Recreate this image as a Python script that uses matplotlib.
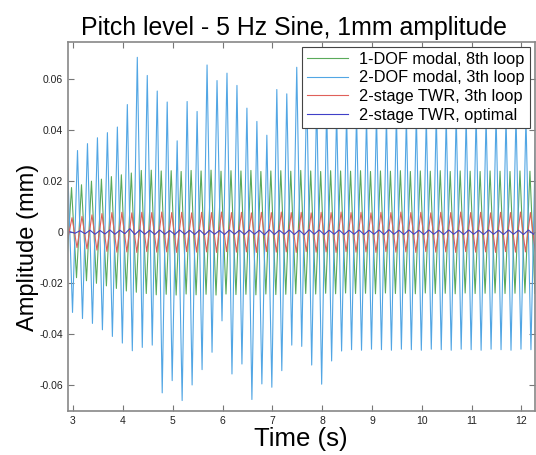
import numpy as np
import matplotlib.pyplot as plt

plt.rcParams['font.family'] = ['Liberation Sans', 'DejaVu Sans']

# ======================================================= #
# values: peaks / troughs of each 5 Hz cycle (mm)
half_period = 0.1  # 5 Hz sine -> one extreme every 0.1 s

# 1-DOF modal, 8th loop
green_peak_t0 = 2.97
green_peaks = [0.0175, 0.0186, 0.0200, 0.0208, 0.0218, 0.0225, 0.0232, 0.0242, 0.0243, 0.0240,
               0.0241, 0.0238, 0.0242, 0.0240, 0.0243, 0.0239, 0.0241, 0.0240, 0.0242, 0.0238,
               0.0240, 0.0241, 0.0239, 0.0242, 0.0240, 0.0238, 0.0241, 0.0240, 0.0239, 0.0241,
               0.0238, 0.0240, 0.0239, 0.0241, 0.0238, 0.0240, 0.0239, 0.0241, 0.0238, 0.0240,
               0.0239, 0.0238, 0.0240, 0.0239, 0.0238, 0.0240, 0.0239, 0.0238]
green_trough_t0 = 2.87
green_troughs = [-0.0140, -0.0178, -0.0190, -0.0200, -0.0210, -0.0220, -0.0230, -0.0235, -0.0240, -0.0245,
                 -0.0243, -0.0246, -0.0242, -0.0245, -0.0243, -0.0246, -0.0242, -0.0244, -0.0243, -0.0245,
                 -0.0242, -0.0244, -0.0243, -0.0241, -0.0240, -0.0242, -0.0239, -0.0241, -0.0238, -0.0240,
                 -0.0239, -0.0241, -0.0238, -0.0240, -0.0239, -0.0241, -0.0238, -0.0240, -0.0239, -0.0241,
                 -0.0238, -0.0240, -0.0239, -0.0238, -0.0240, -0.0239, -0.0238, -0.0240]

# 2-DOF modal, 3th loop
blue_peak_t0 = 2.89
blue_peaks = [0.0270, 0.0320, 0.0347, 0.0370, 0.0390, 0.0412, 0.0500, 0.0685, 0.0614, 0.0553,
              0.0510, 0.0358, 0.0512, 0.0473, 0.0655, 0.0594, 0.0623, 0.0575, 0.0486, 0.0434,
              0.0380, 0.0559, 0.0542, 0.0646, 0.0560, 0.0520, 0.0490, 0.0470, 0.0460, 0.0460,
              0.0450, 0.0460, 0.0450, 0.0460, 0.0450, 0.0460, 0.0450, 0.0460, 0.0450, 0.0460,
              0.0450, 0.0460, 0.0450, 0.0460, 0.0450, 0.0460, 0.0450, 0.0450]
blue_trough_t0 = 2.99
blue_troughs = [-0.0314, -0.0338, -0.0357, -0.0382, -0.0408, -0.0434, -0.0464, -0.0451, -0.0442, -0.0629,
                -0.0581, -0.0659, -0.0598, -0.0538, -0.0470, -0.0347, -0.0555, -0.0516, -0.0655, -0.0594,
                -0.0607, -0.0542, -0.0442, -0.0447, -0.0520, -0.0595, -0.0504, -0.0465, -0.0460, -0.0462,
                -0.0458, -0.0460, -0.0462, -0.0458, -0.0460, -0.0462, -0.0458, -0.0460, -0.0462, -0.0458,
                -0.0460, -0.0462, -0.0458, -0.0460, -0.0462, -0.0458, -0.0460]

# 2-stage TWR, 3th loop
red_peak_t0 = 2.98
red_peaks = [0.0057, 0.0062, 0.0068, 0.0073, 0.0077, 0.0078, 0.0076, 0.0078, 0.0077, 0.0079,
             0.0077, 0.0078, 0.0076, 0.0078, 0.0077, 0.0079, 0.0077, 0.0078, 0.0076, 0.0078,
             0.0077, 0.0079, 0.0077, 0.0078, 0.0076, 0.0078, 0.0077, 0.0079, 0.0077, 0.0078,
             0.0076, 0.0078, 0.0077, 0.0079, 0.0077, 0.0078, 0.0076, 0.0078, 0.0077, 0.0079,
             0.0077, 0.0078, 0.0076, 0.0078, 0.0077, 0.0079, 0.0077, 0.0078]
red_trough_t0 = 2.88
red_troughs = [-0.0040, -0.0060, -0.0065, -0.0070, -0.0075, -0.0078, -0.0077, -0.0079, -0.0076, -0.0078,
               -0.0077, -0.0079, -0.0076, -0.0078, -0.0077, -0.0079, -0.0076, -0.0078, -0.0077, -0.0079,
               -0.0076, -0.0078, -0.0077, -0.0079, -0.0076, -0.0078, -0.0077, -0.0079, -0.0076, -0.0078,
               -0.0077, -0.0079, -0.0076, -0.0078, -0.0077, -0.0079, -0.0076, -0.0078, -0.0077, -0.0079,
               -0.0076, -0.0078, -0.0077, -0.0079, -0.0076, -0.0078, -0.0077, -0.0079]

# 2-stage TWR, optimal
navy_peak_t0 = 2.94
navy_peaks = [0.0002, 0.0006, 0.0008, 0.0007, 0.0009, 0.0008, 0.0014, 0.0009, 0.0008, 0.0009,
              0.0007, 0.0009, 0.0008, 0.0009, 0.0008, 0.0007, 0.0009, 0.0008, 0.0009, 0.0008,
              0.0010, 0.0008, 0.0009, 0.0008, 0.0010, 0.0009, 0.0008, 0.0009, 0.0008, 0.0009,
              0.0008, 0.0009, 0.0010, 0.0008, 0.0009, 0.0008, 0.0009, 0.0008, 0.0009, 0.0008,
              0.0009, 0.0008, 0.0009, 0.0008, 0.0009, 0.0008, 0.0009, 0.0008]
navy_trough_t0 = 3.04
navy_troughs = [-0.0004, -0.0006, -0.0008, -0.0007, -0.0008, -0.0006, -0.0009, -0.0008, -0.0009, -0.0008,
                -0.0009, -0.0008, -0.0009, -0.0010, -0.0008, -0.0009, -0.0008, -0.0009, -0.0008, -0.0010,
                -0.0009, -0.0008, -0.0009, -0.0010, -0.0008, -0.0009, -0.0008, -0.0009, -0.0008, -0.0009,
                -0.0008, -0.0009, -0.0008, -0.0009, -0.0008, -0.0009, -0.0008, -0.0009, -0.0008, -0.0009,
                -0.0008, -0.0009, -0.0008, -0.0009, -0.0008, -0.0009, -0.0008]

series_labels = ['1-DOF modal, 8th loop', '2-DOF modal, 3th loop',
                 '2-stage TWR, 3th loop', '2-stage TWR, optimal']

x_ticks = [3, 4, 5, 6, 7, 8, 9, 10, 11, 12]
y_ticks = [-0.06, -0.04, -0.02, 0, 0.02, 0.04, 0.06]
y_tick_labels = ['-0.06', '-0.04', '-0.02', '0', '0.02', '0.04', '0.06']


# ======================================================= #
# join alternating peaks and troughs into one trace
def trace(peak_t0, peaks, trough_t0, troughs):
    tp = peak_t0 + 2 * half_period * np.arange(len(peaks))
    tt = trough_t0 + 2 * half_period * np.arange(len(troughs))
    t = np.concatenate([tp, tt])
    v = np.concatenate([peaks, troughs])
    order = np.argsort(t)
    return t[order], v[order]


fig = plt.figure(figsize=(5.36, 4.55), dpi=100)
ax = fig.add_axes([0.126, 0.0967, 0.872, 0.811])

colors = ['#5aaa5a', '#52a6e4', '#e0605a', '#4040c8']
data = [(green_peak_t0, green_peaks, green_trough_t0, green_troughs),
        (blue_peak_t0, blue_peaks, blue_trough_t0, blue_troughs),
        (red_peak_t0, red_peaks, red_trough_t0, red_troughs),
        (navy_peak_t0, navy_peaks, navy_trough_t0, navy_troughs)]
for (p0, p, q0, q), c, lab in zip(data, colors, series_labels):
    t, v = trace(p0, p, q0, q)
    ax.plot(t, v, color=c, lw=0.8, label=lab)

ax.set_xlim(2.89, 12.27)
ax.set_ylim(-0.07, 0.0745)
ax.set_xticks(x_ticks)
ax.set_yticks(y_ticks)
ax.set_yticklabels(y_tick_labels)
ax.tick_params(direction='in', top=True, right=True, labelsize=7.5, length=4,
               color='#777777', labelcolor='#222222', pad=3.3)
for s in ax.spines.values():
    s.set_color('#888888')
    s.set_linewidth(1.2)

ax.set_title('Pitch level - 5 Hz Sine, 1mm amplitude', fontsize=17.9, pad=5, x=0.485)
ax.set_xlabel('Time (s)', fontsize=18.5, labelpad=1)
ax.set_ylabel('Amplitude (mm)', fontsize=17)
ax.yaxis.set_label_coords(-0.062, 0.444)

leg = ax.legend(loc='upper right', fontsize=11.8, handlelength=2.5, handletextpad=0.7,
                labelspacing=0.22, borderpad=0.3, fancybox=False, framealpha=1,
                borderaxespad=0.3)
leg.get_frame().set_edgecolor('#444444')
leg.get_frame().set_linewidth(0.8)

plt.savefig('out.png', dpi=100)
